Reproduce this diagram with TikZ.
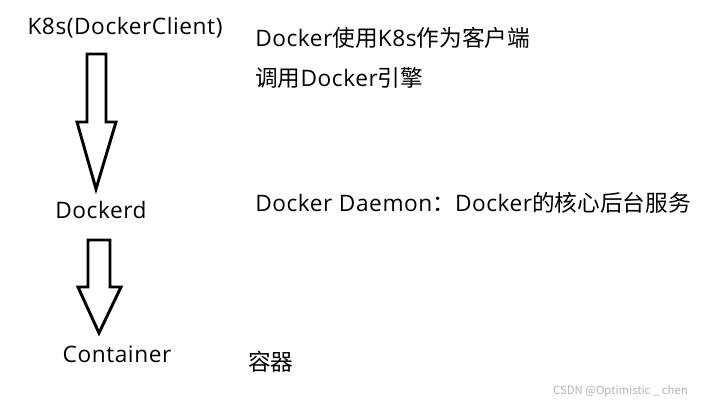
\documentclass[tikz,border=0pt]{standalone}
\usepackage{fontspec}
\setmainfont[LetterSpace=2.5]{Open Sans}
\newfontfamily\cjk{Noto Sans CJK SC}
\begin{document}
\begin{tikzpicture}[x=0.75pt,y=-0.75pt,
  lbl/.style={inner sep=0pt,font=\fontsize{17pt}{20pt}\selectfont},
  blockarrow/.style={draw=black,line width=2.2pt,line join=miter,fill=white}]
\useasboundingbox[fill=white] (0,0) rectangle (709,403);
\node[lbl] (k8s) at (125,28) {K8s(DockerClient)};
\node[lbl] (dockerd) at (101,210) {Dockerd};
\node[lbl] (container) at (117,354) {Container};
\node[lbl,anchor=west] (d1) at (255,38) {Docker{\cjk 使用}K8s{\cjk 作为客户端}};
\node[lbl,anchor=west] (d2) at (255,78) {{\cjk 调用}Docker{\cjk 引擎}};
\node[lbl,anchor=west] (d3) at (255,203) {Docker Daemon{\cjk ：}Docker{\cjk 的核心后台服务}};
\node[lbl,anchor=west] (d4) at (248,362) {\cjk 容器};
\node[inner sep=0pt,anchor=east,text=black!30,font=\cjk\fontsize{8.5pt}{10pt}\selectfont] (wm) at (688,391) {CSDN @Optimistic \_ chen};
\draw[blockarrow] (87,54) -- (106,54) -- (106,122) -- (116,122) -- (96,189) -- (77,122) -- (87,122) -- cycle;
\draw[blockarrow] (88,240) -- (110,240) -- (110,287) -- (121,287) -- (99,333) -- (78,287) -- (88,287) -- cycle;
\end{tikzpicture}
\end{document}
